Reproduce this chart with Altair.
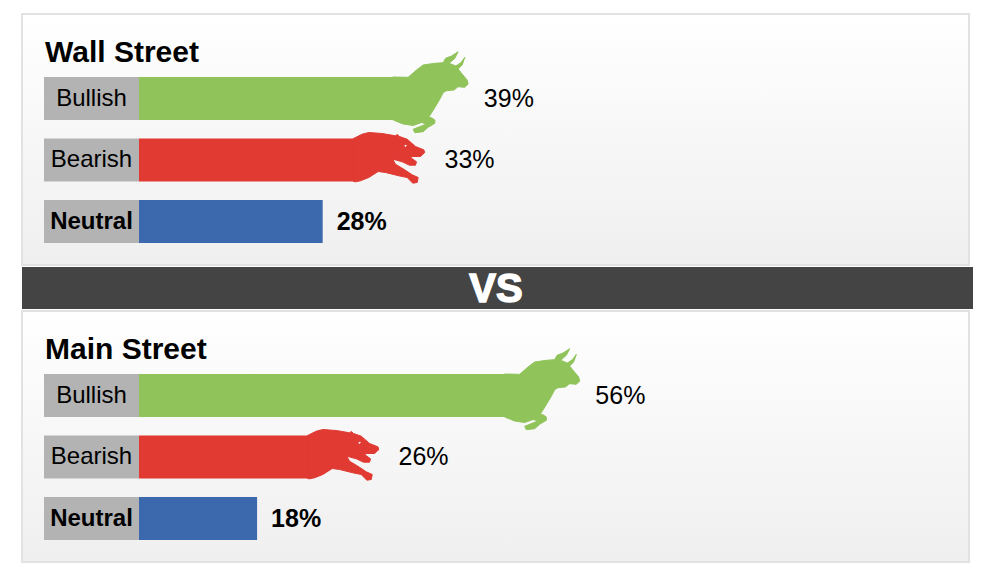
import altair as alt
import pandas as pd

panels = ["Wall Street", "Main Street"]
sentiments = ["Bullish", "Bearish", "Neutral"]
wall_street = [39, 33, 28]
main_street = [56, 26, 18]
colors = ["#90C45B", "#E03A33", "#3C68AE"]
divider = "VS"
FONT = "Liberation Sans"

BULL = ("M-2,-21.5 L13.3,-21.2 L21.7,-28.5 L28.3,-33.5 L40,-35.2 L48.3,-35.8 L50.7,-40.2 L56.7,-42.5 "
        "L63.3,-46.8 L60,-40.2 L54.3,-35.2 L61,-32.5 L66,-35.8 L70,-41.2 L67.3,-33.5 L63.3,-29.5 "
        "L66.7,-25.2 L72.3,-18.5 L73.3,-14.5 L70,-11.2 L63.3,-11.8 L59,-8.5 L51.7,-7.8 L48.5,-6 "
        "L44.5,1.5 L38.5,11.5 L34,18.5 L37,19.5 L40,21.5 L40,24.8 L33.3,28.8 L28.3,33.2 L20,34.2 "
        "L18.3,30.8 L23.3,28.8 L31.7,25.5 L26.7,24 L18.3,27 L8.3,25.5 L-1.7,21.5 Z")
BEAR = ("M-2,-21.5 L0,-22.5 L6.7,-25.8 L13.3,-27.5 L26.7,-26.5 L40,-24.2 L41.7,-25.5 L44,-23.5 "
        "L51.7,-20.8 L60,-13.5 L68.3,-10.2 L69.3,-7.5 L65,-3.5 L57.3,-3.5 L55,-2.5 L61,1.8 L60,5.2 "
        "L54,5.2 L46.7,1.8 L37.3,-0.8 L40,4.2 L48.3,9.2 L56.7,14.8 L62.7,17.5 L61.7,22.5 L57.3,23.2 "
        "L51.7,17.5 L43.3,15.8 L30,12.5 L22.7,11.5 L13.3,17.5 L5,20.8 L0,21.8 L-2,21.5 Z "
        "M47.5,-14 L50,-12.8 L52.5,-14.5 L50,-15.5 Z")

PANEL_SHIFT = 297 / 61.5
rows = []
for p, vals in enumerate([wall_street, main_street]):
    for r, (s, v) in enumerate(zip(sentiments, vals)):
        rows.append({"panel": panels[p], "sentiment": s, "value": v,
                     "label": f"{v}%", "pos": r + p * PANEL_SHIFT})
df = pd.DataFrame(rows)
titles = pd.DataFrame({"panel": panels, "pos": [p * PANEL_SHIFT - 0.735 for p in range(2)]})

W, H = 984, 564
x_scale = alt.Scale(domain=[-131 / 6.56, (W - 131) / 6.56], nice=False, zero=False, padding=0)
y_scale = alt.Scale(domain=[(H - 90.5) / 61.5, -90.5 / 61.5], nice=False, zero=False, padding=0)
X = alt.X("value:Q", scale=x_scale, axis=None)
Y = alt.Y("pos:Q", scale=y_scale, axis=None)

gradient = alt.Gradient(gradient="linear", x1=0, x2=0, y1=0, y2=1,
                        stops=[alt.GradientStop(offset=0, color="#ffffff"),
                               alt.GradientStop(offset=1, color="#efefef")])


def panel_bg(top, bottom):
    return alt.Chart().mark_rect(fill=gradient, stroke="#e2e2e2", strokeWidth=2).encode(
        x=alt.value(14), x2=alt.value(961), y=alt.value(top), y2=alt.value(bottom))


layers = [
    panel_bg(6, 257),
    panel_bg(303, 554),
    alt.Chart().mark_rect(fill="#444444").encode(
        x=alt.value(14), x2=alt.value(965), y=alt.value(259), y2=alt.value(301)),
    alt.Chart(pd.DataFrame({"t": [divider]})).mark_text(
        font=FONT, fontSize=40, fontWeight="bold", color="white", stroke="white", strokeWidth=1.5,
        align="center", baseline="middle").encode(
        text="t:N", x=alt.value(488), y=alt.value(282)),
    alt.Chart(titles).mark_text(font=FONT, fontSize=30, fontWeight="bold", color="black",
                                align="left", baseline="middle").encode(
        text="panel:N", x=alt.value(37), y=Y),
    alt.Chart(df).mark_bar(orient="horizontal", size=43, color="#B3B3B3").encode(
        x=alt.value(36), x2=alt.value(131), y=Y),
    alt.Chart(df).mark_bar(orient="horizontal", size=43).encode(
        x=X, x2=alt.value(131), y=Y,
        color=alt.Color("sentiment:N", scale=alt.Scale(domain=sentiments, range=colors), legend=None)),
    alt.Chart(df).transform_filter("datum.sentiment=='Bullish'").mark_point(
        shape=BULL, size=4, filled=True, opacity=1, color=colors[0], stroke=colors[0],
        strokeWidth=1, strokeJoin="round").encode(x=X, y=Y),
    alt.Chart(df).transform_filter("datum.sentiment=='Bearish'").mark_point(
        shape=BEAR, size=4, filled=True, opacity=1, color=colors[1], stroke=colors[1],
        strokeWidth=1, strokeJoin="round").encode(x=X, y=Y),
    alt.Chart(df).transform_filter("datum.sentiment!='Neutral'").mark_text(
        font=FONT, fontSize=24, color="black", align="center", baseline="middle").encode(
        text="sentiment:N", x=alt.value(83.5), y=Y),
    alt.Chart(df).transform_filter("datum.sentiment=='Neutral'").mark_text(
        font=FONT, fontSize=24, fontWeight="bold", color="black", align="center", baseline="middle").encode(
        text="sentiment:N", x=alt.value(83.5), y=Y),
    alt.Chart(df).transform_filter("datum.sentiment!='Neutral'").mark_text(
        font=FONT, fontSize=25, color="black", align="left", baseline="middle", dx=89).encode(
        text="label:N", x=X, y=Y),
    alt.Chart(df).transform_filter("datum.sentiment=='Neutral'").mark_text(
        font=FONT, fontSize=25, fontWeight="bold", color="black", align="left", baseline="middle", dx=14).encode(
        text="label:N", x=X, y=Y),
]

chart = alt.layer(*layers).properties(
    width=W, height=H, padding=0, autosize=alt.AutoSizeParams(type="none"), background="white"
).configure_view(stroke=None)

chart.save("out.html", embed_options={"renderer": "svg", "actions": False})
